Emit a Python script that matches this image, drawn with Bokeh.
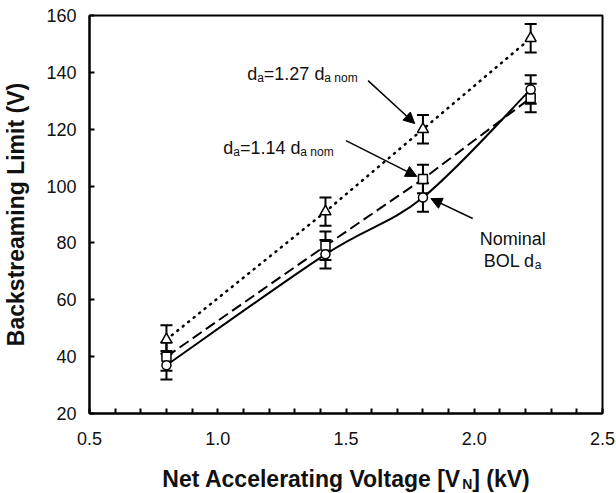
from bokeh.plotting import figure
from bokeh.layouts import column
from bokeh.models import (Range1d, FixedTicker, Whisker, TeeHead, ColumnDataSource,
                          Label, Arrow, NormalHead, PrintfTickFormatter)
from bokeh.core.properties import value
from bokeh.embed import file_html
from bokeh.resources import INLINE

# ---- data ----
x_kv = [0.80, 1.42, 1.80, 2.22]
nominal = [37.0, 76.0, 96.0, 134.0]
nominal_err = [5.0, 5.0, 5.0, 5.0]
da_114 = [40.0, 79.0, 102.5, 131.0]
da_114_err = [5.0, 5.0, 5.0, 5.0]
da_127 = [46.0, 91.0, 120.0, 152.0]
da_127_err = [5.0, 5.0, 5.0, 5.0]
x_ticks = [0.5, 1.0, 1.5, 2.0, 2.5]
x_minor = [0.6, 0.7, 0.8, 0.9, 1.1, 1.2, 1.3, 1.4, 1.6, 1.7, 1.8, 1.9, 2.1, 2.2, 2.3, 2.4]
y_ticks = [20, 40, 60, 80, 100, 120, 140, 160]
y_title = "Backstreaming Limit (V)"
x_title_parts = ["Net Accelerating Voltage [V", "N", "] (kV)"]

FONT = "Liberation Sans"
TXT = "#111111"

# ---- layout ----
W, H = 616, 454          # main figure
TH = 38                  # x-title strip below
BL, BR, BT = 88, 14, 15
FW = W - BL - BR         # 514
FH = 398
BB = H - BT - FH
X0, X1, Y0, Y1 = 0.5, 2.5, 20.0, 160.0

def px2x(px):
    return X0 + (px - BL) * (X1 - X0) / FW

def px2y(py):
    return Y0 + (BT + FH - py) * (Y1 - Y0) / FH

p = figure(width=W, height=H, output_backend="svg", toolbar_location=None,
           x_range=Range1d(X0, X1), y_range=Range1d(Y0, Y1),
           min_border_left=BL, min_border_right=BR, min_border_top=BT, min_border_bottom=BB)
p.xgrid.visible = False
p.ygrid.visible = False
p.outline_line_color = "black"
p.outline_line_width = 2
p.background_fill_color = "white"
p.border_fill_color = "white"

for ax in (p.xaxis[0], p.yaxis[0]):
    ax.axis_line_width = 2
    ax.axis_line_color = "black"
    ax.major_tick_in = 5
    ax.major_tick_out = 0
    ax.major_tick_line_width = 2
    ax.minor_tick_in = 5
    ax.minor_tick_out = 0
    ax.minor_tick_line_width = 2
    ax.major_label_text_font = FONT
    ax.major_label_text_font_size = "18px"
    ax.major_label_text_color = TXT

p.xaxis[0].ticker = FixedTicker(ticks=x_ticks, minor_ticks=x_minor)
p.xaxis[0].formatter = PrintfTickFormatter(format="%.1f")
p.xaxis[0].major_label_standoff = 18
p.yaxis[0].ticker = FixedTicker(ticks=y_ticks, minor_ticks=[])
p.yaxis[0].major_label_standoff = 13
p.yaxis[0].axis_label = y_title
p.yaxis[0].axis_label_text_font = FONT
p.yaxis[0].axis_label_text_font_size = "23px"
p.yaxis[0].axis_label_text_font_style = "bold"
p.yaxis[0].axis_label_text_color = TXT
p.yaxis[0].axis_label_standoff = 14

# ---- error bars ----
def add_err(vals, errs):
    src = ColumnDataSource(dict(x=x_kv, lo=[v - e for v, e in zip(vals, errs)],
                                hi=[v + e for v, e in zip(vals, errs)]))
    w = Whisker(base="x", lower="lo", upper="hi", source=src, line_width=2, line_color="black",
                upper_head=TeeHead(size=12, line_width=2, line_color="black"),
                lower_head=TeeHead(size=12, line_width=2, line_color="black"))
    p.add_layout(w)

add_err(da_127, da_127_err)
add_err(da_114, da_114_err)
add_err(nominal, nominal_err)

# ---- lines ----
p.line(x_kv, da_127, line_color="black", line_width=2.5, line_dash="1 6", line_cap="round")
p.line(x_kv, da_114, line_color="black", line_width=2, line_dash="11 5")

# smoothed line for nominal (Excel-like smoothing through the data points)
n = len(x_kv)
bx0, by0, bx1, by1, cx0, cy0, cx1, cy1 = [], [], [], [], [], [], [], []
for i in range(n - 1):
    xm, ym = x_kv[max(i - 1, 0)], nominal[max(i - 1, 0)]
    xa, ya = x_kv[i], nominal[i]
    xb, yb = x_kv[i + 1], nominal[i + 1]
    xp, yp = x_kv[min(i + 2, n - 1)], nominal[min(i + 2, n - 1)]
    bx0.append(xa); by0.append(ya); bx1.append(xb); by1.append(yb)
    cx0.append(xa + (xb - xm) / 6); cy0.append(ya + (yb - ym) / 6)
    cx1.append(xb - (xp - xa) / 6); cy1.append(yb - (yp - ya) / 6)
p.bezier(x0=bx0, y0=by0, x1=bx1, y1=by1, cx0=cx0, cy0=cy0, cx1=cx1, cy1=cy1,
         line_color="black", line_width=2)

# ---- markers ----
p.scatter(x_kv, da_127, marker="triangle", size=11, fill_color="white", line_color="black", line_width=1.5)
p.scatter(x_kv, da_114, marker="square", size=9, fill_color="white", line_color="black", line_width=1.5)
p.scatter(x_kv, nominal, marker="circle", size=9, fill_color="white", line_color="black", line_width=1.5)

# ---- annotation text with subscripts ----
CW = {"d": 556, "a": 556, "=": 584, "1": 556, ".": 278, "2": 556, "7": 556, "4": 556, " ": 278,
      "n": 556, "o": 556, "m": 833, "N": 722, "i": 222, "l": 222, "B": 667, "O": 778, "L": 556}

def tw(s, size):
    return sum(CW.get(c, 556) for c in s) * size / 1000.0

def rich(x_px, base_px, pieces, main=18, sub=12, drop=4):
    cur = x_px
    for txt, is_sub in pieces:
        size = sub if is_sub else main
        yb = base_px + (drop if is_sub else 0)
        p.add_layout(Label(x=px2x(cur), y=px2y(yb), text=txt, text_font=FONT,
                           text_font_size=f"{size}px", text_color=TXT,
                           text_baseline="alphabetic", text_align="left"))
        cur += tw(txt, size)

rich(246, 73, [("d", False), ("a", True), ("=1.27 d", False), ("a nom", True)])
rich(222, 147, [("d", False), ("a", True), ("=1.14 d", False), ("a nom", True)])
p.add_layout(Label(x=px2x(512), y=px2y(238), text="Nominal", text_font=FONT, text_font_size="18px",
                   text_color=TXT, text_align="center", text_baseline="alphabetic"))
rich(483, 260, [("BOL d", False), ("a", True)])

# ---- arrows ----
for (xs, ys, xe, ye) in [(1.586, 137.1, 1.768, 122.0), (1.50, 116.0, 1.776, 103.4),
                         (1.994, 88.6, 1.831, 95.6)]:
    p.add_layout(Arrow(x_start=xs, y_start=ys, x_end=xe, y_end=ye, line_width=1.5, line_color="black",
                       end=NormalHead(size=11, fill_color="black", line_color="black", line_width=1)))

# ---- x-axis title strip (needs a subscript); its frame spans the same columns as the plot frame ----
t = figure(width=W, height=TH, output_backend="svg", toolbar_location=None,
           x_range=Range1d(BL, BL + FW), y_range=Range1d(0, TH), x_axis_type=None, y_axis_type=None,
           min_border_left=BL, min_border_right=BR, min_border_top=0, min_border_bottom=0)
t.xgrid.visible = False
t.ygrid.visible = False
t.outline_line_color = None
t.border_fill_color = "white"
t.background_fill_color = "white"

sizes = [23, 14, 23]
drops = [0, 5, 0]
widths = [13060, 722, 2500]
total = sum(w * s / 1000.0 for w, s in zip(widths, sizes))
cx = BL + FW / 2.0
cur = cx - total / 2.0
mid = 14  # text middle, px above the strip bottom
for txt, w, s, d in zip(x_title_parts, widths, sizes, drops):
    t.text(x=[cur], y=[mid - d], text=[txt], text_font=value(FONT), text_font_size=f"{s}px",
           text_font_style="bold", text_color=TXT, text_align="left", text_baseline="middle")
    cur += w * s / 1000.0

layout = column(p, t, spacing=0)
open("out.html", "w").write(file_html(layout, INLINE))
